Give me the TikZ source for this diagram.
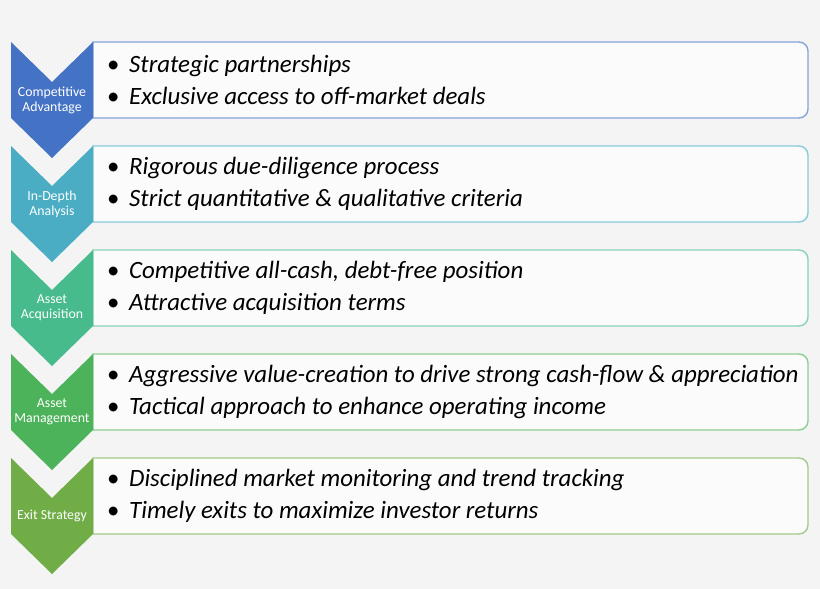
\documentclass[tikz,border=0pt]{standalone}
\usepackage{fontspec}
\setmainfont{Carlito}
\usetikzlibrary{calc}

\definecolor{bgGray}{HTML}{F4F4F4}
\definecolor{stepBlue}{HTML}{4472C4}
\definecolor{stepTeal}{HTML}{4AADC3}
\definecolor{stepMint}{HTML}{47BB8B}
\definecolor{stepGreen}{HTML}{4DB35A}
\definecolor{stepOlive}{HTML}{70AD47}

\newcommand{\bul}{\makebox[22pt][l]{\upshape\textbullet}}

\begin{document}
\begin{tikzpicture}[x=1pt, y=-1pt,
    chev/.style={fill=#1},
    card/.style={draw=#1!65!white, line width=1.4pt, fill=white!60!bgGray},
    lab/.style={text=white, align=center, font=\fontsize{13.8}{15}\selectfont, inner sep=0pt},
    items/.style={anchor=west, align=left, inner sep=0pt, font=\fontsize{24.9}{32}\selectfont\itshape}]
    \fill[bgGray] (0,0) rectangle (820,589);
    \useasboundingbox (0,0) rectangle (820,589);

    % competitive advantage
    \draw[card=stepBlue] (400,42) [rounded corners=9pt] -- (808,42) -- (808,118) -- (400,118) [sharp corners] -- (93,118) -- (93,42) -- cycle;
    \fill[chev=stepBlue] (11,42) coordinate (A1) -- (52,82) -- (93,42) -- (93,118) -- (52,158) -- (11,118) -- cycle;
    \node[lab] (lab1) at (52,100) {Competitive\\Advantage};
    \node[items] (txt1) at (107,80) {\bul Strategic partnerships\\ \bul Exclusive access to off-market deals};

    % in-depth analysis
    \draw[card=stepTeal] (400,146) [rounded corners=9pt] -- (808,146) -- (808,222) -- (400,222) [sharp corners] -- (93,222) -- (93,146) -- cycle;
    \fill[chev=stepTeal] (11,146) coordinate (A2) -- (52,186) -- (93,146) -- (93,222) -- (52,262) -- (11,222) -- cycle;
    \node[lab] (lab2) at (52,204) {In-Depth\\Analysis};
    \node[items] (txt2) at (107,184) {\bul Rigorous due-diligence process\\ \bul Strict quantitative \& qualitative criteria};

    % asset acquisition
    \draw[card=stepMint] (400,250) [rounded corners=9pt] -- (808,250) -- (808,326) -- (400,326) [sharp corners] -- (93,326) -- (93,250) -- cycle;
    \fill[chev=stepMint] (11,250) coordinate (A3) -- (52,290) -- (93,250) -- (93,326) -- (52,366) -- (11,326) -- cycle;
    \node[lab] (lab3) at (52,308) {Asset\\Acquisition};
    \node[items] (txt3) at (107,288) {\bul Competitive all-cash, debt-free position\\ \bul Attractive acquisition terms};

    % asset management
    \draw[card=stepGreen] (400,354) [rounded corners=9pt] -- (808,354) -- (808,430) -- (400,430) [sharp corners] -- (93,430) -- (93,354) -- cycle;
    \fill[chev=stepGreen] (11,354) coordinate (A4) -- (52,394) -- (93,354) -- (93,430) -- (52,470) -- (11,430) -- cycle;
    \node[lab] (lab4) at (52,412) {Asset\\Management};
    \node[items] (txt4) at (107,392) {\bul Aggressive value-creation to drive strong cash-flow \& appreciation\\ \bul Tactical approach to enhance operating income};

    % exit strategy
    \draw[card=stepOlive] (400,458) [rounded corners=9pt] -- (808,458) -- (808,534) -- (400,534) [sharp corners] -- (93,534) -- (93,458) -- cycle;
    \fill[chev=stepOlive] (11,458) coordinate (A5) -- (52,498) -- (93,458) -- (93,534) -- (52,574) -- (11,534) -- cycle;
    \node[lab] (lab5) at (52,516) {Exit Strategy};
    \node[items] (txt5) at (107,496) {\bul Disciplined market monitoring and trend tracking\\ \bul Timely exits to maximize investor returns};
\end{tikzpicture}
\end{document}
